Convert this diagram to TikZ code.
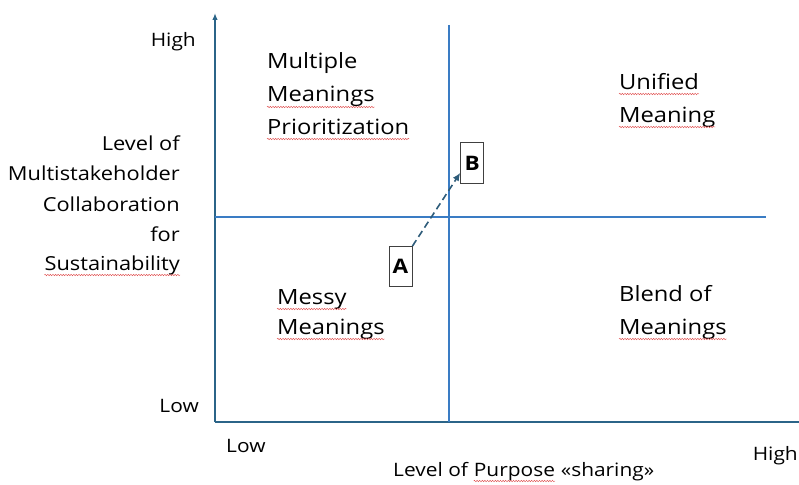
\documentclass[tikz,border=0pt]{standalone}
\usepackage{fontspec}
\setmainfont{Open Sans}[FakeStretch=1.13]
\usetikzlibrary{arrows.meta,decorations.pathmorphing}
\definecolor{axisc}{HTML}{2B6488}
\definecolor{divc}{HTML}{3A7CC4}
\definecolor{arrc}{HTML}{2E5C7A}
\definecolor{boxc}{HTML}{404040}
\definecolor{squigc}{HTML}{E05050}
\tikzset{
  lbl/.style={inner sep=0pt, anchor=base west, font=\fontsize{21}{25}\selectfont, text=black},
  ylbl/.style={inner sep=0pt, anchor=base east, font=\fontsize{19.3}{23}\selectfont, text=black},
  xlbl/.style={inner sep=0pt, anchor=base west, font=\fontsize{18.5}{22}\selectfont, text=black},
  tick/.style={inner sep=0pt, font=\fontsize{18.5}{22}\selectfont, text=black},
  letterbox/.style={draw=boxc, line width=0.9pt, minimum width=23pt, minimum height=40pt, inner sep=0pt, font=\bfseries\fontsize{20}{24}\selectfont},
  axisline/.style={draw=axisc, line width=1.5pt},
  squig/.style={draw=squigc, line width=0.45pt, decorate, decoration={snake, amplitude=0.7pt, segment length=2.6pt}}
}
\begin{document}
\begin{tikzpicture}[x=1pt,y=-1pt]
\useasboundingbox (0,0) rectangle (799,484);
% axes
\coordinate (O) at (215,422);
\coordinate (Ytop) at (215,13);
\coordinate (Xend) at (799,422);
\draw[axisline, -{Latex[length=7pt,width=5.5pt]}] (O) -- (Ytop);
\draw[axisline] (O) -- (Xend);
% dividers
\coordinate (Vtop) at (449,25);
\coordinate (Vbot) at (449,422);
\coordinate (Hl) at (215,217);
\coordinate (Hr) at (766,217);
\draw[divc, line width=1.1pt] (Hl) -- (Hr);
\draw[divc, line width=1.8pt] (Vtop) -- (Vbot);
% y-axis labels
\node[tick, anchor=base east] (yhigh) at (196,47) {High};
\node[tick, anchor=base east] (ylow) at (199,412) {Low};
\node[ylbl] (y1) at (180,150) {Level of};
\node[ylbl] (y2) at (180,180) {Multistakeholder};
\node[ylbl] (y3) at (180,211) {Collaboration};
\node[ylbl] (y4) at (180,241) {for};
\node[ylbl] (y5) at (180,270) {Sustainability};
\draw[squig] ([yshift=-5pt]y5.base west) -- ([yshift=-5pt]y5.base east);
% x-axis labels
\node[tick, anchor=base west] (xlow) at (226,452) {Low};
\node[tick, anchor=base east] (xhigh) at (798,460) {High};
\node[xlbl] (x1) at (393,476) {Level of};
\node[xlbl] (x2) at ([xshift=5.5pt]x1.base east) {Purpose};
\node[xlbl] (x3) at ([xshift=5.5pt]x2.base east) {«sharing»};
\draw[squig] ([yshift=-5pt]x2.base west) -- ([yshift=-5pt]x2.base east);
% quadrant labels
\node[lbl] (q1a) at (267,69) {Multiple};
\node[lbl] (q1b) at (267,102) {Meanings};
\node[lbl] (q1c) at (267,134) {Prioritization};
\draw[squig] ([yshift=-5pt]q1b.base west) -- ([yshift=-5pt]q1b.base east);
\draw[squig] ([yshift=-5pt]q1c.base west) -- ([yshift=-5pt]q1c.base east);
\node[lbl] (q2a) at (619,89) {Unified};
\node[lbl] (q2b) at (619,122) {Meaning};
\draw[squig] ([yshift=-5pt]q2a.base west) -- ([yshift=-5pt]q2a.base east);
\draw[squig] ([yshift=-5pt]q2b.base west) -- ([yshift=-5pt]q2b.base east);
\node[lbl] (q3a) at (277,304) {Messy};
\node[lbl] (q3b) at (277,334) {Meanings};
\draw[squig] ([yshift=-5pt]q3a.base west) -- ([yshift=-5pt]q3a.base east);
\draw[squig] ([yshift=-5pt]q3b.base west) -- ([yshift=-5pt]q3b.base east);
\node[lbl] (q4a) at (619,301) {Blend of};
\node[lbl] (q4b) at (619,334) {Meanings};
\draw[squig] ([yshift=-5pt]q4b.base west) -- ([yshift=-5pt]q4b.base east);
% A and B
\node[letterbox] (A) at (400.5,266.5) {A};
\node[letterbox, minimum height=41pt] (B) at (472.2,163.3) {B};
\draw[arrc, line width=1.6pt, dash pattern=on 7pt off 4pt, -{Latex[length=8pt,width=7pt]}] (A.north east) -- ([yshift=-9.5pt]B.west);
\end{tikzpicture}
\end{document}
